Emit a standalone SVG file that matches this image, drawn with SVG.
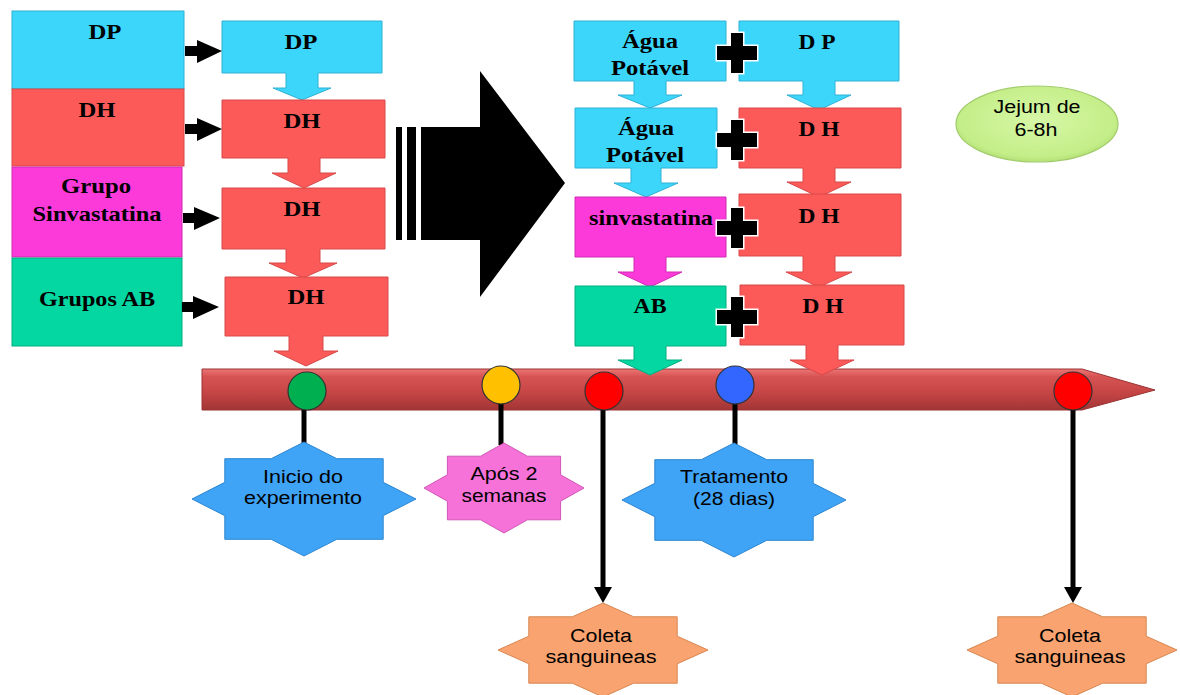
<svg xmlns="http://www.w3.org/2000/svg" width="1180" height="695" viewBox="0 0 1180 695">
<style>
.b{font-family:"Liberation Serif","Times New Roman",serif;font-weight:bold;font-size:21px;text-anchor:middle;fill:#000}
.s{font-family:"Liberation Sans",Arial,sans-serif;font-size:18px;text-anchor:middle;fill:#000}
.cy{fill:#3cd6fb;stroke:#2fb0d4;stroke-width:1}
.rd{fill:#fb5a59;stroke:#d84848;stroke-width:1}
.mg{fill:#fc3ada;stroke:#d02cb4;stroke-width:1}
.tl{fill:#04d7a1;stroke:#02ad80;stroke-width:1}
.blk{fill:#000}
.plus{fill:#000;stroke:#fff;stroke-width:3;paint-order:stroke}
.ln{stroke:#000;stroke-width:5;fill:none}
.dot{stroke:#333;stroke-width:1.2}
.sb{fill:#3fa3f6;stroke:#2f86d0;stroke-width:1}
.sp{fill:#f672d8;stroke:#d056b4;stroke-width:1}
.so{fill:#f9a470;stroke:#d88650;stroke-width:1}
</style>
<defs>
<linearGradient id="gBar" x1="0" y1="0" x2="0" y2="1">
<stop offset="0" stop-color="#ec7676"/>
<stop offset="0.18" stop-color="#d85454"/>
<stop offset="0.6" stop-color="#c44444"/>
<stop offset="1" stop-color="#a23535"/>
</linearGradient>
<radialGradient id="gEl" cx="0.5" cy="0.45" r="0.6">
<stop offset="0" stop-color="#d6f7a6"/>
<stop offset="0.8" stop-color="#c4ee88"/>
<stop offset="1" stop-color="#aad86c"/>
</radialGradient>
</defs>

<!-- timeline -->
<g id="timeline">
<path d="M202,369 H1082 L1155,390 L1082,410 H202 Z" fill="url(#gBar)" stroke="#9a3232" stroke-width="1"/>
</g>

<!-- left column -->
<g id="left-dp"><rect class="cy" x="12" y="11" width="172" height="78"/><text class="b" x="105" y="39" textLength="33" lengthAdjust="spacingAndGlyphs">DP</text></g>
<g id="left-dh"><rect class="rd" x="12" y="89" width="172" height="77"/><text class="b" x="97" y="117" textLength="37" lengthAdjust="spacingAndGlyphs">DH</text></g>
<g id="left-sinv"><rect class="mg" x="12" y="167" width="170" height="90"/><text class="b" x="96" y="193" textLength="70" lengthAdjust="spacingAndGlyphs">Grupo</text><text class="b" x="97" y="221" textLength="129" lengthAdjust="spacingAndGlyphs">Sinvastatina</text></g>
<g id="left-ab"><rect class="tl" x="12" y="258" width="170" height="88"/><text class="b" x="97" y="306" textLength="116" lengthAdjust="spacingAndGlyphs">Grupos AB</text></g>

<!-- second column -->
<g id="c2-dp"><path class="cy" d="M222,21 H382 V73 H318 V88 H331 L302,100 L273,88 H286 V73 H222 Z"/><text class="b" x="301" y="49" textLength="33" lengthAdjust="spacingAndGlyphs">DP</text></g>
<g id="c2-dh1"><path class="rd" d="M222,100 H385 V158 H320 V173 H336 L304,188 L272,173 H288 V158 H222 Z"/><text class="b" x="302" y="128" textLength="37" lengthAdjust="spacingAndGlyphs">DH</text></g>
<g id="c2-dh2"><path class="rd" d="M222,188 H385 V249 H320 V263 H337 L303,278 L269,263 H286 V249 H222 Z"/><text class="b" x="302" y="216" textLength="37" lengthAdjust="spacingAndGlyphs">DH</text></g>
<g id="c2-dh3"><path class="rd" d="M225,277 H388 V336 H323 V351 H338 L306,366 L274,351 H289 V336 H225 Z"/><text class="b" x="306" y="304" textLength="37" lengthAdjust="spacingAndGlyphs">DH</text></g>

<!-- right column A -->
<g id="ra-agua1"><path class="cy" d="M574,21 H726 V81 H666 V95 H682 L650,108 L618,95 H634 V81 H574 Z"/><text class="b" x="650" y="48" textLength="56" lengthAdjust="spacingAndGlyphs">Água</text><text class="b" x="650" y="75" textLength="78" lengthAdjust="spacingAndGlyphs">Potável</text></g>
<g id="ra-agua2"><path class="cy" d="M575,108 H717 V168 H661 V183 H678 L646,197 L614,183 H631 V168 H575 Z"/><text class="b" x="646" y="135" textLength="56" lengthAdjust="spacingAndGlyphs">Água</text><text class="b" x="645" y="162" textLength="78" lengthAdjust="spacingAndGlyphs">Potável</text></g>
<g id="ra-sinv"><path class="mg" d="M575,197 H726 V257 H666 V272 H682 L650,287 L618,272 H634 V257 H575 Z"/><text class="b" x="651" y="225" textLength="124" lengthAdjust="spacingAndGlyphs">sinvastatina</text></g>
<g id="ra-ab"><path class="tl" d="M575,286 H726 V346 H666 V360 H682 L650,375 L618,360 H634 V346 H575 Z"/><text class="b" x="650" y="313" textLength="33" lengthAdjust="spacingAndGlyphs">AB</text></g>

<!-- right column B -->
<g id="rb-dp"><path class="cy" d="M739,21 H899 V81 H835 V95 H851 L819,110 L787,95 H803 V81 H739 Z"/><text class="b" x="817" y="49" textLength="37" lengthAdjust="spacingAndGlyphs">D P</text></g>
<g id="rb-dh1"><path class="rd" d="M739,108 H901 V168 H835 V182 H851 L819,197 L787,182 H803 V168 H739 Z"/><text class="b" x="819" y="136" textLength="41" lengthAdjust="spacingAndGlyphs">D H</text></g>
<g id="rb-dh2"><path class="rd" d="M739,194 H901 V256 H835 V272 H852 L819,287 L786,272 H803 V256 H739 Z"/><text class="b" x="819" y="223" textLength="41" lengthAdjust="spacingAndGlyphs">D H</text></g>
<g id="rb-dh3"><path class="rd" d="M740,285 H904 V345 H838 V360 H854 L822,375 L790,360 H806 V345 H740 Z"/><text class="b" x="823" y="313" textLength="41" lengthAdjust="spacingAndGlyphs">D H</text></g>

<!-- plus signs -->
<g id="plus-signs">
<path class="plus" d="M731,33 h12 v13 h14 v14 h-14 v13 h-12 v-13 h-14 v-14 h14 Z"/>
<path class="plus" d="M731,120 h12 v13 h14 v14 h-14 v13 h-12 v-13 h-14 v-14 h14 Z"/>
<path class="plus" d="M731,208 h12 v13 h14 v14 h-14 v13 h-12 v-13 h-14 v-14 h14 Z"/>
<path class="plus" d="M731,297 h12 v13 h14 v14 h-14 v13 h-12 v-13 h-14 v-14 h14 Z"/>
</g>

<!-- jejum -->
<g id="jejum"><ellipse cx="1037" cy="124" rx="81" ry="38" fill="url(#gEl)" stroke="#a2cc6c" stroke-width="1.2"/><text class="s" x="1037" y="113" textLength="87" lengthAdjust="spacingAndGlyphs">Jejum de</text><text class="s" x="1036" y="136" textLength="43" lengthAdjust="spacingAndGlyphs">6-8h</text></g>

<!-- connectors -->
<g id="connectors">
<path class="blk" d="M185,46 H197 V40 L222,51 L197,63 V56 H185 Z"/>
<path class="blk" d="M185,124 H197 V118 L222,129 L197,141 V134 H185 Z"/>
<path class="blk" d="M183,213 H194 V207 L220,218 L194,230 V223 H183 Z"/>
<path class="blk" d="M182,302 H193 V296 L219,307 L193,319 V312 H182 Z"/>
<rect class="blk" x="396" y="127" width="6" height="113"/>
<rect class="blk" x="407" y="127" width="9" height="113"/>
<path class="blk" d="M421,127 H480 V71 L565,183 L480,297 V240 H421 Z"/>
<line class="ln" x1="304" y1="408" x2="304" y2="444"/>
<line class="ln" x1="501" y1="402" x2="501" y2="445"/>
<line class="ln" x1="735" y1="402" x2="735" y2="445"/>
<line class="ln" x1="603" y1="408" x2="603" y2="589"/>
<path class="blk" d="M594,587 H612 L603,603 Z"/>
<line class="ln" x1="1073" y1="408" x2="1073" y2="589"/>
<path class="blk" d="M1064,587 H1082 L1073,603 Z"/>
</g>

<!-- timeline dots -->
<g id="dots">
<circle class="dot" cx="307" cy="391" r="19" fill="#00b050"/>
<circle class="dot" cx="501" cy="385" r="19" fill="#ffc000"/>
<circle class="dot" cx="604" cy="391" r="19" fill="#ff0000"/>
<circle class="dot" cx="735" cy="385" r="19" fill="#3366ff"/>
<circle class="dot" cx="1073" cy="391" r="19" fill="#ff0000"/>
</g>

<!-- stars -->
<g id="star-inicio"><polygon class="sb" points="304,442 336.8,458.7 383.2,458.7 383.2,482.3 416,499 383.2,515.7 383.2,539.3 336.8,539.3 304,556 271.2,539.3 224.8,539.3 224.8,515.7 192,499 224.8,482.3 224.8,458.7 271.2,458.7"/><text class="s" x="303" y="483" textLength="80" lengthAdjust="spacingAndGlyphs">Inicio do</text><text class="s" x="303" y="504" textLength="118" lengthAdjust="spacingAndGlyphs">experimento</text></g>
<g id="star-apos"><polygon class="sp" points="504,443 527.4,456.2 560.6,456.2 560.6,474.8 584,488 560.6,501.2 560.6,519.8 527.4,519.8 504,533 480.6,519.8 447.4,519.8 447.4,501.2 424,488 447.4,474.8 447.4,456.2 480.6,456.2"/><text class="s" x="504" y="480" textLength="67" lengthAdjust="spacingAndGlyphs">Após 2</text><text class="s" x="504" y="502" textLength="85" lengthAdjust="spacingAndGlyphs">semanas</text></g>
<g id="star-tratamento"><polygon class="sb" points="734,443 766.8,459.7 813.2,459.7 813.2,483.3 846,500 813.2,516.7 813.2,540.3 766.8,540.3 734,557 701.2,540.3 654.8,540.3 654.8,516.7 622,500 654.8,483.3 654.8,459.7 701.2,459.7"/><text class="s" x="734" y="483" textLength="108" lengthAdjust="spacingAndGlyphs">Tratamento</text><text class="s" x="734" y="505" textLength="82" lengthAdjust="spacingAndGlyphs">(28 dias)</text></g>
<g id="star-coleta1"><polygon class="so" points="603,603 633.7,616.8 677.2,616.8 677.2,636.2 708,650 677.2,663.8 677.2,683.2 633.7,683.2 603,697 572.3,683.2 528.8,683.2 528.8,663.8 498,650 528.8,636.2 528.8,616.8 572.3,616.8"/><text class="s" x="601" y="642" textLength="62" lengthAdjust="spacingAndGlyphs">Coleta</text><text class="s" x="601" y="663" textLength="111" lengthAdjust="spacingAndGlyphs">sanguineas</text></g>
<g id="star-coleta2"><polygon class="so" points="1072,603 1102.7,616.8 1146.2,616.8 1146.2,636.2 1177,650 1146.2,663.8 1146.2,683.2 1102.7,683.2 1072,697 1041.3,683.2 997.8,683.2 997.8,663.8 967,650 997.8,636.2 997.8,616.8 1041.3,616.8"/><text class="s" x="1070" y="642" textLength="62" lengthAdjust="spacingAndGlyphs">Coleta</text><text class="s" x="1070" y="663" textLength="111" lengthAdjust="spacingAndGlyphs">sanguineas</text></g>
</svg>
